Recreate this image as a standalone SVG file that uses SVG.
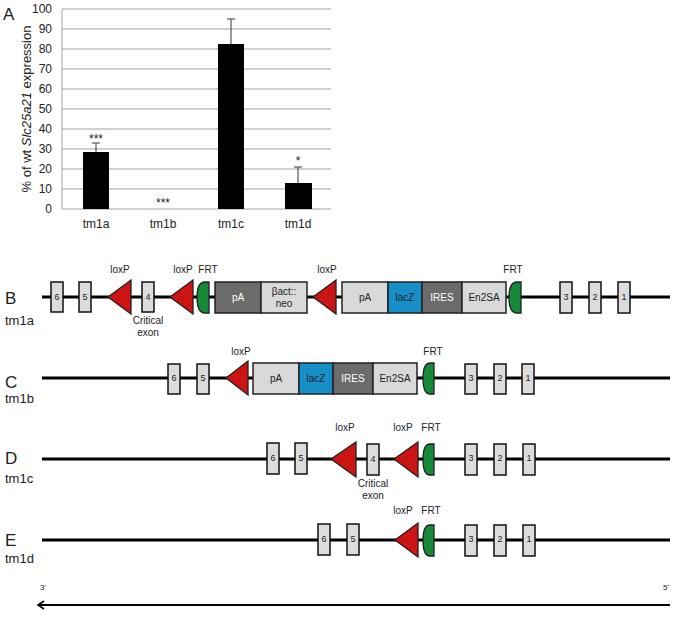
<svg xmlns="http://www.w3.org/2000/svg" width="676" height="617" viewBox="0 0 676 617">
<style>
text{font-family:"Liberation Sans",Arial,sans-serif;fill:#222}
.tick{font-size:12px;text-anchor:end}
.cat{font-size:12px;text-anchor:middle}
.grid{stroke:#a0a0a0;stroke-width:1}
.bar{fill:#000}
.err{stroke:#555;stroke-width:1.2}
.panel{font-size:17px}
.allele{font-size:13px}
.bb{stroke:#000;stroke-width:3}
.exon{fill:#dcdcdc;stroke:#111;stroke-width:1.5}
.exn{font-size:9px;text-anchor:middle}
.lox{fill:#cc1414;stroke:#222;stroke-width:1.3}
.frt{fill:#178a3a;stroke:#222;stroke-width:1.3}
.lab{font-size:10px;text-anchor:middle}
.dk{fill:#6b6b6b;stroke:#222;stroke-width:1.5}
.lt{fill:#d9d9d9;stroke:#222;stroke-width:1.5}
.bl{fill:#168fc8;stroke:#222;stroke-width:1.5}
.bt{font-size:10px;text-anchor:middle}
</style>
<defs>
<marker id="ah" markerWidth="10" markerHeight="10" refX="7" refY="5" orient="auto" markerUnits="userSpaceOnUse">
<path d="M1,1 L7,5 L1,9" fill="none" stroke="#000" stroke-width="1.6"/>
</marker>
</defs>

<g id="chart">
<text x="3" y="20" class="panel">A</text>
<g>
<line class="grid" x1="62" y1="9" x2="331" y2="9"/>
<line class="grid" x1="62" y1="29" x2="331" y2="29"/>
<line class="grid" x1="62" y1="49" x2="331" y2="49"/>
<line class="grid" x1="62" y1="69" x2="331" y2="69"/>
<line class="grid" x1="62" y1="89" x2="331" y2="89"/>
<line class="grid" x1="62" y1="109" x2="331" y2="109"/>
<line class="grid" x1="62" y1="129" x2="331" y2="129"/>
<line class="grid" x1="62" y1="149" x2="331" y2="149"/>
<line class="grid" x1="62" y1="169" x2="331" y2="169"/>
<line class="grid" x1="62" y1="189" x2="331" y2="189"/>
<line class="grid" x1="62" y1="209" x2="331" y2="209"/>
<line class="grid" x1="62" y1="9" x2="62" y2="209"/>
</g>
<g>
<text class="tick" x="52" y="13">100</text>
<text class="tick" x="52" y="33">90</text>
<text class="tick" x="52" y="53">80</text>
<text class="tick" x="52" y="73">70</text>
<text class="tick" x="52" y="93">60</text>
<text class="tick" x="52" y="113">50</text>
<text class="tick" x="52" y="133">40</text>
<text class="tick" x="52" y="153">30</text>
<text class="tick" x="52" y="173">20</text>
<text class="tick" x="52" y="193">10</text>
<text class="tick" x="52" y="213">0</text>
</g>
<text transform="translate(31,109) rotate(-90)" text-anchor="middle" font-size="13">% of wt <tspan font-style="italic">Slc25a21</tspan> expression</text>
<line class="err" x1="96" y1="152" x2="96" y2="143"/><line class="err" x1="92" y1="143" x2="100" y2="143"/>
<rect class="bar" x="83" y="152" width="26" height="57"/>
<line class="err" x1="231" y1="44" x2="231" y2="19"/><line class="err" x1="227" y1="19" x2="235" y2="19"/>
<rect class="bar" x="218" y="44" width="26" height="165"/>
<line class="err" x1="298" y1="183" x2="298" y2="167"/><line class="err" x1="294" y1="167" x2="302" y2="167"/>
<rect class="bar" x="285" y="183" width="27" height="26"/>
<text class="cat" x="96" y="143" font-size="12">***</text>
<text class="cat" x="163" y="207" font-size="12">***</text>
<text class="cat" x="298" y="165" font-size="12">*</text>
<text class="cat" x="96" y="228">tm1a</text>
<text class="cat" x="163" y="228">tm1b</text>
<text class="cat" x="231" y="228">tm1c</text>
<text class="cat" x="298" y="228">tm1d</text>
</g>

<g id="connectors">
<line class="bb" x1="42" y1="297" x2="670" y2="297"/>
<line class="bb" x1="42" y1="378" x2="670" y2="378"/>
<line class="bb" x1="42" y1="459" x2="670" y2="459"/>
<line class="bb" x1="42" y1="540" x2="670" y2="540"/>
<line x1="670" y1="605" x2="38" y2="605" stroke="#000" stroke-width="1.8" marker-end="url(#ah)"/>
</g>

<g id="rowB">
<text x="5" y="304" class="panel">B</text>
<text x="5" y="325" class="allele">tm1a</text>
<rect class="exon" x="51" y="282" width="12" height="30"/><text class="exn" x="57" y="300">6</text>
<rect class="exon" x="79" y="282" width="12" height="30"/><text class="exn" x="85" y="300">5</text>
<polygon class="lox" points="108,297 131,280 131,314"/><text class="lab" x="120" y="273">loxP</text>
<rect class="exon" x="142" y="282" width="12" height="30"/><text class="exn" x="148" y="300">4</text>
<text class="lab" x="148" y="324">Critical</text><text class="lab" x="148" y="336">exon</text>
<polygon class="lox" points="170,297 193,280 193,314"/><text class="lab" x="183" y="273">loxP</text>
<path class="frt" d="M209,282 H205 Q197,282 197,297.5 Q197,313 205,313 H209 Z"/><text class="lab" x="208" y="273">FRT</text>
<rect class="dk" x="215" y="282" width="46" height="31"/><text class="bt" x="238" y="301" style="fill:#fff">pA</text>
<rect class="lt" x="261" y="282" width="46" height="31"/><text class="bt" x="284" y="295">βact::</text><text class="bt" x="284" y="307">neo</text>
<polygon class="lox" points="313,297 336,280 336,314"/><text class="lab" x="327" y="273">loxP</text>
<rect class="lt" x="342" y="282" width="46" height="31"/><text class="bt" x="365" y="301">pA</text>
<rect class="bl" x="388" y="282" width="34" height="31"/><text class="bt" x="405" y="301">lacZ</text>
<rect class="dk" x="422" y="282" width="40" height="31"/><text class="bt" x="442" y="301" style="fill:#fff">IRES</text>
<rect class="lt" x="462" y="282" width="44" height="31"/><text class="bt" x="484" y="301">En2SA</text>
<path class="frt" d="M521,282 H517 Q509,282 509,297.5 Q509,313 517,313 H521 Z"/><text class="lab" x="513" y="273">FRT</text>
<rect class="exon" x="560" y="282" width="12" height="31"/><text class="exn" x="566" y="300">3</text>
<rect class="exon" x="589" y="282" width="12" height="31"/><text class="exn" x="595" y="300">2</text>
<rect class="exon" x="618" y="282" width="12" height="31"/><text class="exn" x="624" y="300">1</text>
</g>

<g id="rowC">
<text x="5" y="388" class="panel">C</text>
<text x="5" y="403" class="allele">tm1b</text>
<rect class="exon" x="168" y="364" width="12" height="30"/><text class="exn" x="174" y="381">6</text>
<rect class="exon" x="197" y="364" width="12" height="30"/><text class="exn" x="203" y="381">5</text>
<polygon class="lox" points="226,378 248,361 248,395"/><text class="lab" x="241" y="355">loxP</text>
<rect class="lt" x="253" y="363" width="46" height="31"/><text class="bt" x="276" y="382">pA</text>
<rect class="bl" x="299" y="363" width="34" height="31"/><text class="bt" x="316" y="382">lacZ</text>
<rect class="dk" x="333" y="363" width="40" height="31"/><text class="bt" x="353" y="382" style="fill:#fff">IRES</text>
<rect class="lt" x="373" y="363" width="44" height="31"/><text class="bt" x="395" y="382">En2SA</text>
<path class="frt" d="M434,363 H430 Q423,363 423,378.5 Q423,394 430,394 H434 Z"/><text class="lab" x="433" y="355">FRT</text>
<rect class="exon" x="465" y="364" width="12" height="30"/><text class="exn" x="471" y="381">3</text>
<rect class="exon" x="494" y="364" width="12" height="30"/><text class="exn" x="500" y="381">2</text>
<rect class="exon" x="522" y="364" width="12" height="30"/><text class="exn" x="528" y="381">1</text>
</g>

<g id="rowD">
<text x="5" y="464" class="panel">D</text>
<text x="5" y="483" class="allele">tm1c</text>
<rect class="exon" x="267" y="443" width="12" height="31"/><text class="exn" x="273" y="461">6</text>
<rect class="exon" x="295" y="443" width="12" height="31"/><text class="exn" x="301" y="461">5</text>
<polygon class="lox" points="331,459 356,442 356,477"/><text class="lab" x="345" y="431">loxP</text>
<rect class="exon" x="367" y="444" width="12" height="31"/><text class="exn" x="373" y="462">4</text>
<text class="lab" x="373" y="487">Critical</text><text class="lab" x="373" y="499">exon</text>
<polygon class="lox" points="394,459 418,442 418,477"/><text class="lab" x="403" y="431">loxP</text>
<path class="frt" d="M434,444 H430 Q423,444 423,459.5 Q423,475 430,475 H434 Z"/><text class="lab" x="431" y="431">FRT</text>
<rect class="exon" x="465" y="444" width="12" height="31"/><text class="exn" x="471" y="461">3</text>
<rect class="exon" x="494" y="444" width="12" height="31"/><text class="exn" x="500" y="461">2</text>
<rect class="exon" x="523" y="444" width="12" height="31"/><text class="exn" x="529" y="461">1</text>
</g>

<g id="rowE">
<text x="5" y="546" class="panel">E</text>
<text x="5" y="563" class="allele">tm1d</text>
<rect class="exon" x="318" y="524" width="12" height="31"/><text class="exn" x="324" y="542">6</text>
<rect class="exon" x="347" y="524" width="12" height="31"/><text class="exn" x="353" y="542">5</text>
<polygon class="lox" points="395,540 418,523 418,557"/><text class="lab" x="403" y="514">loxP</text>
<path class="frt" d="M434,525 H430 Q423,525 423,540.5 Q423,556 430,556 H434 Z"/><text class="lab" x="431" y="514">FRT</text>
<rect class="exon" x="465" y="525" width="12" height="31"/><text class="exn" x="471" y="542">3</text>
<rect class="exon" x="494" y="525" width="12" height="31"/><text class="exn" x="500" y="542">2</text>
<rect class="exon" x="523" y="525" width="12" height="31"/><text class="exn" x="529" y="542">1</text>
</g>

<g id="axis">
<text x="40" y="590" font-size="8">3'</text>
<text x="663" y="590" font-size="8">5'</text>
</g>
</svg>
